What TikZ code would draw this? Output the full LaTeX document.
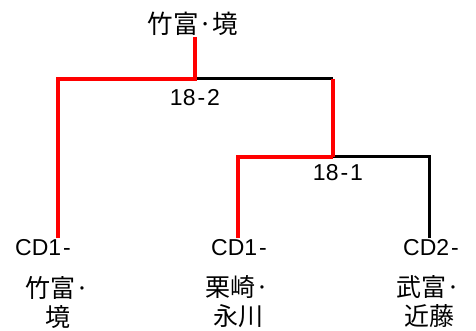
\documentclass[tikz,border=0pt]{standalone}
\usepackage{fontspec}
\setmainfont{Liberation Sans}
\newfontfamily\jp{Noto Sans CJK JP}
\usetikzlibrary{calc}

\begin{document}
\begin{tikzpicture}[x=1pt,y=-1pt,
  redline/.style={line width=4.2pt,red},
  blackline/.style={line width=3pt,black},
  lbl/.style={inner sep=2pt,font=\fontsize{23}{26}\selectfont},
  jplbl/.style={inner sep=2pt,align=center,font=\fontsize{25}{29}\selectfont\jp}]
\useasboundingbox (0,0) rectangle (476,331);
\node [lbl,inner sep=1pt,font=\fontsize{25.5}{28}\selectfont\jp] (root) at (193,24) {竹富·境};
\coordinate (s2) at (195,79);
\coordinate (s1) at (333,157);
\node [lbl] (lab2) at (195,98) {18\kern2pt-\kern2pt2};
\node [lbl] (lab1) at (338,173) {18\kern2pt-\kern2pt1};
% leaves
\node [lbl] (cdA) at (43,248) {CD1\kern2pt-};
\node [lbl] (cdB) at (239,248) {CD1\kern2pt-};
\node [lbl] (cdC) at (431,248) {CD2\kern2pt-};
\node [jplbl] (nameA) at (58,302) {竹富·\\境};
\node [jplbl] (nameB) at (238,302) {栗崎·\\永川};
\node [jplbl] (nameC) at (429,302) {武富·\\近藤};
% branches
\draw [blackline] (s2) -- (s2 -| s1);
\draw [blackline] (s1) -| (nameC.north |- cdC.north);
\draw [redline] (s2 -| s1) -- (s1);
\draw [redline] (s1) -| (nameB.north |- cdB.north);
\draw [redline] (root.south -| s2) -- (s2) -| (nameA.north |- cdA.north);
\end{tikzpicture}
\end{document}
